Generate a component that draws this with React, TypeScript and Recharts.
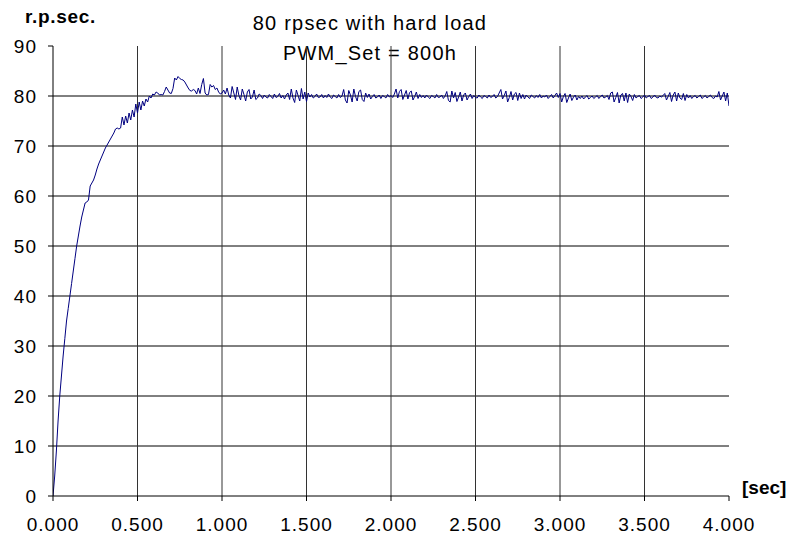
import React from 'react';
import { LineChart, Line, XAxis, YAxis, ReferenceLine } from 'recharts';

// sample spacing of the recording, seconds
const stepSec = 0.01;

// r.p.sec., one value every 0.01 s from 0.000 to 4.000
const rpm = [
	// 0.00 - 0.40
	0, 4, 9, 15, 20, 24, 28, 31.5, 35, 37.5,
	40, 42.5, 45, 47.5, 50, 52, 54, 55.8, 57.2, 58.6,
	58.8, 59.2, 62, 62.6, 63.2, 64.2, 65.4, 66.4, 67.2, 68,
	68.8, 69.6, 70.2, 70.8, 71.4, 72, 72.6, 73.4, 73.6, 73.4,
	73.6,
	// 0.41 - 1.00
	75.8, 74.2, 76, 74.6, 76.6, 75.2, 77.2, 75.8, 78.4, 76.6,
	78.8, 77.2, 79, 78, 79.4, 78.8, 80, 79.6, 80.4, 80.2,
	80.8, 80.6, 80.2, 80.3, 80.2, 80.9, 81.8, 81.2, 80.6, 80.5,
	81.5, 83.6, 83.2, 83.9, 83.5, 83.3, 83.2, 82.8, 82.2, 81.6,
	81.1, 81, 81.3, 81.1, 80.4, 81.6, 80.5, 82.3, 83.5, 80.6,
	80.2, 80.3, 82.3, 81.8, 82.1, 81.3, 81.6, 80.8, 80.4, 80.6,
	// 1.01 - 2.00
	81.2, 80.4, 81.6, 80.2, 79.6, 81.9, 80.6, 79.3, 81.8, 80.1,
	79.2, 81.4, 80.3, 79, 80.8, 81.3, 79.4, 79.8, 81.2, 79.3,
	79.6, 80.4, 80.1, 79.5, 80.2, 79.8, 79.6, 80.3, 79.9, 79.5,
	80.4, 79.7, 79.9, 80.5, 79.6, 80.1, 79.4, 80.2, 80.6, 79.3,
	81.4, 79.6, 78.7, 81.2, 80.1, 79, 81.5, 79.4, 80.8, 78.9,
	80.6, 79.8, 80.3, 79.6, 79.9, 80.4, 79.7, 79.8, 80.3, 79.6,
	80.1, 79.7, 80.4, 79.8, 79.5, 80.2, 79.9, 79.6, 80.3, 79.7,
	80, 81.3, 79.2, 78.6, 81.1, 80.2, 78.8, 81.4, 79.9, 79,
	80.9, 81.2, 79.3, 78.9, 80.6, 79.7, 80.4, 79.4, 79.9, 80.3,
	79.6, 79.8, 80.2, 79.5, 80.1, 79.9, 79.6, 80.3, 79.8, 80.1,
	// 2.01 - 3.00
	79.7, 80.4, 81.4, 79.6, 80.9, 81.3, 79.3, 80.2, 81.1, 79.4,
	80.7, 81, 79.2, 79.9, 80.8, 79.5, 80.3, 79.7, 80.1, 79.6,
	80.2, 79.8, 79.5, 80.1, 79.9, 79.6, 80.3, 79.7, 79.8, 80.2,
	79.5, 80, 80.9, 79.1, 78.8, 81, 79.6, 80.7, 78.9, 79.8,
	80.8, 79, 80.2, 80.6, 79.2, 79.9, 80.4, 79.5, 80.1, 79.7,
	79.6, 80.2, 79.8, 79.5, 80.1, 79.9, 79.6, 80.2, 79.7, 79.9,
	80.3, 79.6, 79.9, 80.6, 81.3, 79.4, 80.1, 81, 78.8, 79.7,
	80.9, 79.2, 80.4, 80.7, 79.1, 80.6, 79.5, 80.3, 79.4, 80.2,
	79.8, 79.5, 80.2, 79.9, 79.6, 80.1, 79.7, 80.3, 79.6, 80,
	79.8, 80.2, 79.5, 79.9, 80.3, 79.6, 80.1, 80.6, 79.7, 80.5,
	// 3.01 - 4.00
	78.8, 79.9, 80.5, 78.7, 79.6, 80.4, 79.1, 79.8, 80.2, 79.2,
	79.9, 79.5, 80, 79.4, 79.8, 80.1, 79.4, 79.7, 80, 79.5,
	79.8, 80.1, 79.5, 79.9, 80.2, 79.6, 79.8, 80.1, 79.3, 80.6,
	80.8, 78.8, 79.7, 80.7, 78.6, 80.2, 80.5, 79, 80.6, 78.7,
	80.4, 79.9, 79.1, 80.3, 79.6, 79.9, 80.1, 79.5, 79.8, 80.2,
	79.6, 79.9, 80.1, 79.5, 79.8, 80.2, 79.7, 79.6, 80, 79.8,
	80.1, 80.5, 79.2, 79.9, 80.7, 78.9, 80.2, 80.8, 79, 80.6,
	79.6, 79.3, 80.5, 79.1, 80.3, 79.6, 80.1, 79.5, 79.9, 80.1,
	79.6, 79.9, 80.2, 79.5, 79.8, 80.1, 79.6, 79.9, 80.2, 79.7,
	79.5, 80, 79.8, 80.9, 79.2, 80, 80.8, 79, 80.6, 78,
];

const timeTicks = [0, 0.5, 1, 1.5, 2, 2.5, 3, 3.5, 4];
const rpmTicks = [0, 10, 20, 30, 40, 50, 60, 70, 80, 90];
const vGrid = [0.5, 1, 1.5, 2, 2.5, 3, 3.5];
const hGrid = [10, 20, 30, 40, 50, 60, 70, 80];

const data = rpm.map((v, i) => ({ t: i * stepSec, v }));

const font = '"Liberation Sans", Arial, sans-serif';

const App: React.FC = () => {
	return (
		<div style={{ position: 'absolute', left: 0, top: 0, width: 789, height: 544, background: '#fff' }}>
			<LineChart
				width={789}
				height={544}
				data={data}
				margin={{ top: 46, right: 60, left: 0, bottom: 18 }}
				style={{ fontFamily: font }}
			>
				{hGrid.map((y) => (
					<ReferenceLine key={'h' + y} y={y} stroke="#000" strokeWidth={1} />
				))}
				{vGrid.map((x) => (
					<ReferenceLine key={'v' + x} x={x} stroke="#333" strokeWidth={1} />
				))}
				<XAxis
					dataKey="t"
					type="number"
					domain={[0, 4]}
					ticks={timeTicks}
					tickFormatter={(t: number) => t.toFixed(3)}
					height={30}
					stroke="#000"
					tickSize={5}
					tickMargin={17}
					tick={{ fill: '#000', fontSize: 19, letterSpacing: 1 }}
					allowDataOverflow
				/>
				<YAxis
					type="number"
					domain={[0, 90]}
					ticks={rpmTicks}
					width={53}
					stroke="#000"
					tickSize={5}
					tickMargin={11}
					tick={{ fill: '#000', fontSize: 19, letterSpacing: 1 }}
				/>
				<Line
					type="linear"
					dataKey="v"
					stroke="#000080"
					strokeWidth={1}
					dot={false}
					activeDot={false}
					isAnimationActive={false}
				/>
				<text x={370} y={30} textAnchor="middle" fontSize={20} letterSpacing={1.2} fill="#000">
					80 rpsec with hard load
				</text>
				<text x={370} y={60} textAnchor="middle" fontSize={20} letterSpacing={1.2} fill="#000">
					PWM_Set = 800h
				</text>
				<text x={25} y={23} fontSize={19} fontWeight="bold" letterSpacing={0.7} fill="#000">
					r.p.sec.
				</text>
				<text x={742} y={494} fontSize={19} fontWeight="bold" fill="#000">
					[sec]
				</text>
			</LineChart>
		</div>
	);
};

export default App;
